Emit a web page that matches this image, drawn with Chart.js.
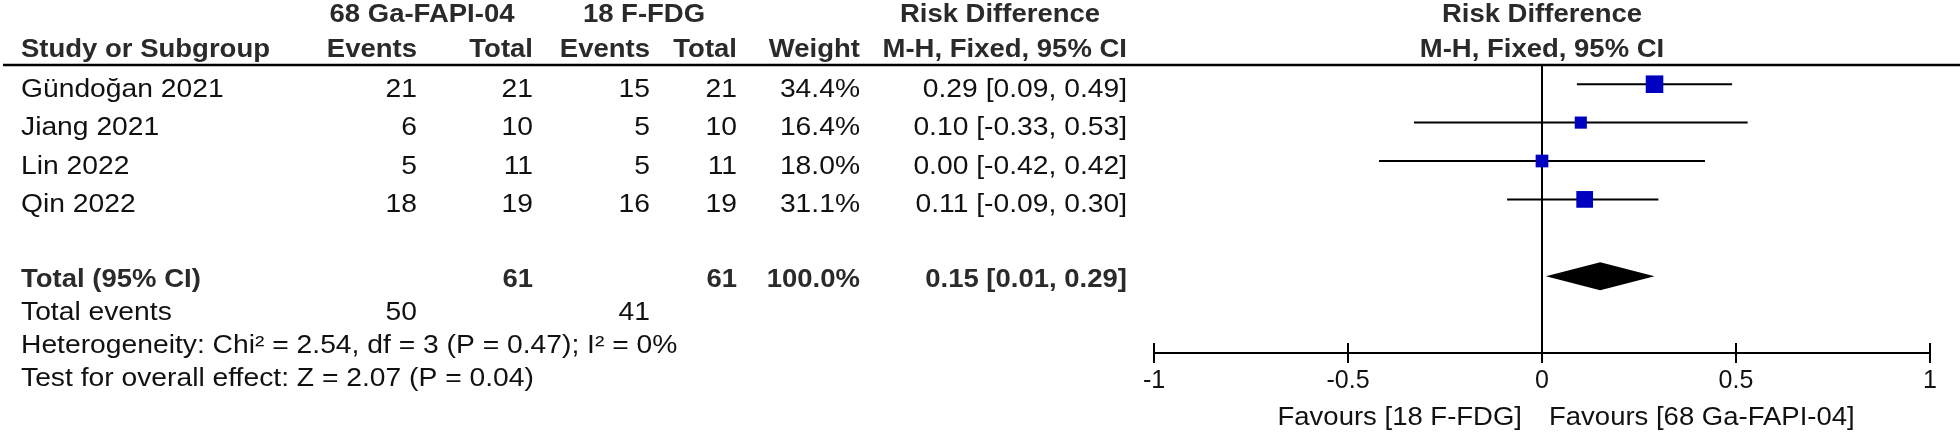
<!DOCTYPE html>
<html>
<head>
<meta charset="utf-8">
<script src="https://cdn.jsdelivr.net/npm/chart.js@4.4.1/dist/chart.umd.min.js"></script>
<style>
  html, body { margin: 0; padding: 0; background: #fff; }
  #wrap { width: 1960px; height: 434px; }
</style>
</head>
<body>
<div id="wrap"><canvas id="forest" width="1960" height="434"></canvas></div>
<script>
// study rows
const studies = ['Gündoğan 2021', 'Jiang 2021', 'Lin 2022', 'Qin 2022']
const expEvents = [21, 6, 5, 18]
const expTotal = [21, 10, 11, 19]
const ctlEvents = [15, 5, 5, 16]
const ctlTotal = [21, 10, 11, 19]
const weights = [34.4, 16.4, 18.0, 31.1]
const riskDiff = [0.29, 0.10, 0.00, 0.11]
const ciLow = [0.09, -0.33, -0.42, -0.09]
const ciHigh = [0.49, 0.53, 0.42, 0.30]

// pooled result
const totalRd = [0.15, 0.01, 0.29] // estimate, low, high
const totalN = [61, 61]
const totalEvents = [50, 41]
const heterogeneity = 'Heterogeneity: Chi\u00b2 = 2.54, df = 3 (P = 0.47); I\u00b2 = 0%'
const overallEffect = 'Test for overall effect: Z = 2.07 (P = 0.04)'

const xTicks = [-1, -0.5, 0, 0.5, 1]
const favours = ['Favours [18 F-FDG]', 'Favours [68 Ga-FAPI-04]']

const TOTAL_ROW = 5
const FONT = '"Liberation Sans", Arial, sans-serif'
const LEFT = 21

function txt(ctx, s, x, y, align, bold, sx) {
  ctx.save()
  ctx.translate(x, y)
  ctx.scale(sx || (bold ? 1.1 : 1.13), 1)
  ctx.font = (bold ? 'bold ' : '') + '25px ' + FONT
  ctx.fillStyle = bold ? '#2a2a2a' : '#111'
  ctx.textAlign = align
  ctx.textBaseline = 'middle'
  ctx.fillText(s, 0, 0)
  ctx.restore()
}

const ci = (e, l, h) => e.toFixed(2) + ' [' + l.toFixed(2) + ', ' + h.toFixed(2) + ']'

// the table on the left and the extra axis pieces
const forestPlugin = {
  id: 'forest',
  afterDatasetsDraw(chart) {
    const { ctx } = chart
    const xs = chart.scales.x
    const ys = chart.scales.y
    // pooled diamond
    const cy = ys.getPixelForValue(TOTAL_ROW)
    ctx.save()
    ctx.fillStyle = '#000'
    ctx.beginPath()
    ctx.moveTo(xs.getPixelForValue(totalRd[1]), cy)
    ctx.lineTo(xs.getPixelForValue(totalRd[0]), cy - 14)
    ctx.lineTo(xs.getPixelForValue(totalRd[2]), cy)
    ctx.lineTo(xs.getPixelForValue(totalRd[0]), cy + 14)
    ctx.closePath()
    ctx.fill()
    ctx.restore()
  },
  afterDraw(chart) {
    const { ctx, chartArea } = chart
    const xs = chart.scales.x
    const ys = chart.scales.y
    const axisY = chartArea.bottom

    // tick marks crossing the axis
    ctx.save()
    ctx.strokeStyle = '#000'
    ctx.lineWidth = 2
    xTicks.forEach(v => {
      const px = Math.round(xs.getPixelForValue(v))
      ctx.beginPath()
      ctx.moveTo(px, axisY - 10)
      ctx.lineTo(px, axisY + 10)
      ctx.stroke()
    })
    // header rule
    ctx.lineWidth = 2.5
    ctx.beginPath()
    ctx.moveTo(3, chartArea.top)
    ctx.lineTo(1960, chartArea.top)
    ctx.stroke()
    ctx.restore()

    const zeroX = xs.getPixelForValue(0)
    // headers
    txt(ctx, '68 Ga-FAPI-04', 422, 15, 'center', true)
    txt(ctx, '18 F-FDG', 644, 15, 'center', true)
    txt(ctx, 'Risk Difference', 1000, 15, 'center', true)
    txt(ctx, 'Risk Difference', zeroX, 15, 'center', true)
    const hy = 50
    txt(ctx, 'Study or Subgroup', LEFT, hy, 'left', true)
    txt(ctx, 'Events', 417, hy, 'right', true)
    txt(ctx, 'Total', 533, hy, 'right', true)
    txt(ctx, 'Events', 650, hy, 'right', true)
    txt(ctx, 'Total', 737, hy, 'right', true)
    txt(ctx, 'Weight', 860, hy, 'right', true)
    txt(ctx, 'M-H, Fixed, 95% CI', 1127, hy, 'right', true)
    txt(ctx, 'M-H, Fixed, 95% CI', zeroX, hy, 'center', true)

    const rowY = i => ys.getPixelForValue(i) + 6
    studies.forEach((s, i) => {
      const y = rowY(i)
      txt(ctx, s, LEFT, y, 'left', false)
      txt(ctx, String(expEvents[i]), 417, y, 'right', false)
      txt(ctx, String(expTotal[i]), 533, y, 'right', false)
      txt(ctx, String(ctlEvents[i]), 650, y, 'right', false)
      txt(ctx, String(ctlTotal[i]), 737, y, 'right', false)
      txt(ctx, weights[i].toFixed(1) + '%', 860, y, 'right', false)
      txt(ctx, ci(riskDiff[i], ciLow[i], ciHigh[i]), 1127, y, 'right', false)
    })

    // summary lines sit a little tighter than the study rows
    const sumY = k => ys.getPixelForValue(TOTAL_ROW) + 4 + k * 33
    let y = sumY(0)
    txt(ctx, 'Total (95% CI)', LEFT, y, 'left', true)
    txt(ctx, String(totalN[0]), 533, y, 'right', true)
    txt(ctx, String(totalN[1]), 737, y, 'right', true)
    txt(ctx, '100.0%', 860, y, 'right', true)
    txt(ctx, ci(totalRd[0], totalRd[1], totalRd[2]), 1127, y, 'right', true)

    y = sumY(1)
    txt(ctx, 'Total events', LEFT, y, 'left', false)
    txt(ctx, String(totalEvents[0]), 417, y, 'right', false)
    txt(ctx, String(totalEvents[1]), 650, y, 'right', false)
    txt(ctx, heterogeneity, LEFT, sumY(2), 'left', false)
    txt(ctx, overallEffect, LEFT, sumY(3), 'left', false)

    // favours labels under the axis
    txt(ctx, favours[0], zeroX - 20, 418, 'right', false, 1.1)
    txt(ctx, favours[1], zeroX + 7, 418, 'left', false, 1.1)
  }
}

const ciSets = studies.map((s, i) => ({
  label: s,
  data: [{ x: ciLow[i], y: i }, { x: ciHigh[i], y: i }],
  showLine: true,
  borderColor: '#000',
  borderWidth: 2,
  pointRadius: 0,
  order: 2,
}))

const forestConfig = {
  type: 'scatter',
  data: {
    datasets: [
      {
        label: 'Risk difference',
        data: riskDiff.map((v, i) => ({ x: v, y: i })),
        pointStyle: 'rect',
        // box area follows the study weight
        pointRadius: weights.map(w => 2.12 * Math.sqrt(w)),
        backgroundColor: '#0000c0',
        borderColor: '#0000c0',
        borderWidth: 0,
        order: 1,
      },
      ...ciSets,
    ],
  },
  options: {
    responsive: false,
    animation: false,
    events: [],
    layout: { padding: { left: 1154, right: 30, top: 65, bottom: 0 } },
    plugins: { legend: { display: false }, tooltip: { enabled: false } },
    scales: {
      x: {
        type: 'linear',
        min: -1,
        max: 1,
        afterFit: scale => { scale.height = 81 },
        afterBuildTicks: scale => { scale.ticks = xTicks.map(v => ({ value: v })) },
        ticks: {
          callback: v => String(v),
          font: { size: 25, family: FONT },
          color: '#111',
          padding: 13,
          maxRotation: 0,
        },
        grid: {
          drawTicks: false,
          lineWidth: 2,
          color: c => (c.tick && c.tick.value === 0 ? '#000' : 'rgba(0,0,0,0)'),
        },
        border: { display: true, color: '#000', width: 2 },
      },
      y: {
        type: 'linear',
        display: false,
        reverse: true,
        min: -0.5,
        max: 7,
      },
    },
  },
  plugins: [forestPlugin],
}

const forestCtx = document.getElementById('forest')
window.forestChart = new Chart(forestCtx, forestConfig)
</script>
</body>
</html>
